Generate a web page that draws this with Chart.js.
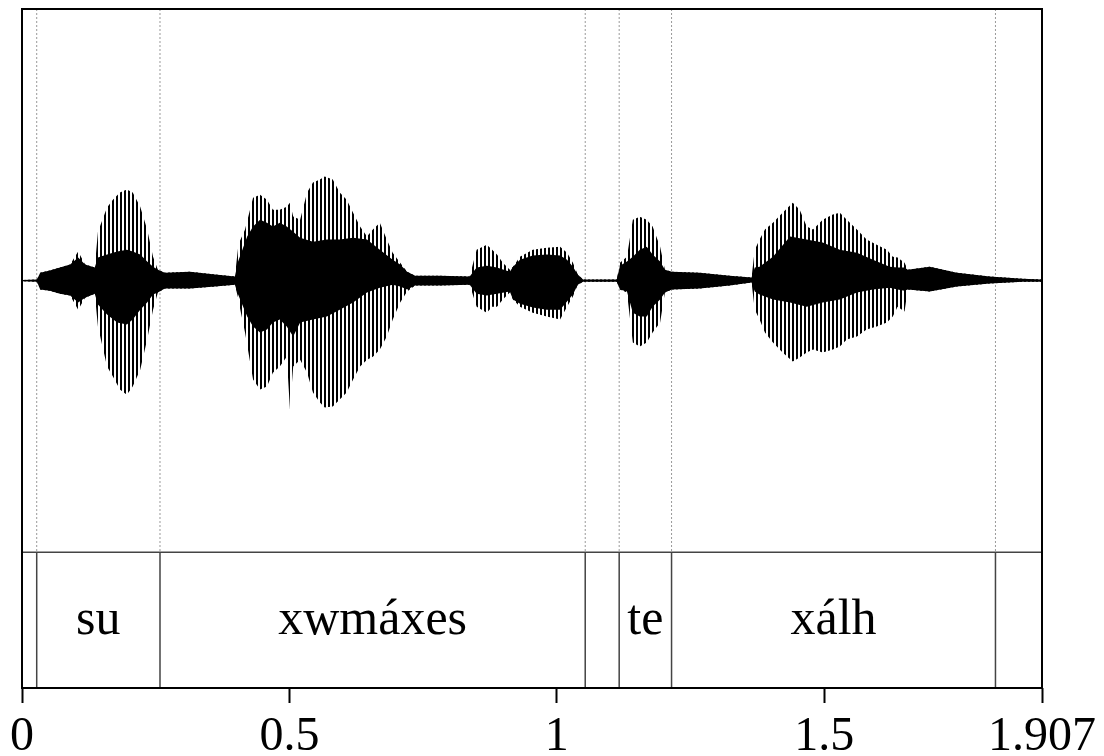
<!DOCTYPE html>
<html>
<head>
<meta charset="utf-8">
<script src="https://cdn.jsdelivr.net/npm/chart.js@4"></script>
<style>
  html, body { margin: 0; padding: 0; background: #fff; }
  #wrap { width: 1104px; height: 756px; }
</style>
</head>
<body>
<div id="wrap"><canvas id="wave"></canvas></div>
<script>
// waveform envelope (time in s, amplitude relative to full scale)
const outerTimes = [0, 0.028, 0.034, 0.052, 0.071, 0.090, 0.105, 0.118, 0.136, 0.142,
  0.159, 0.170, 0.183, 0.196, 0.207, 0.221, 0.234, 0.245, 0.254, 0.267,
  0.314, 0.361, 0.398, 0.404, 0.407, 0.417, 0.432, 0.445, 0.458, 0.469,
  0.482, 0.495, 0.501, 0.507, 0.520, 0.533, 0.544, 0.557, 0.566, 0.581,
  0.594, 0.607, 0.619, 0.632, 0.645, 0.656, 0.669, 0.682, 0.693, 0.707,
  0.720, 0.735, 0.781, 0.837, 0.850, 0.869, 0.879, 0.888, 0.899, 0.912,
  0.918, 0.931, 0.955, 0.981, 1.006, 1.019, 1.030, 1.039, 1.049, 1.112,
  1.118, 1.131, 1.142, 1.155, 1.168, 1.179, 1.193, 1.202, 1.215, 1.267,
  1.323, 1.364, 1.370, 1.379, 1.389, 1.404, 1.422, 1.441, 1.454, 1.467,
  1.479, 1.497, 1.516, 1.529, 1.542, 1.561, 1.579, 1.598, 1.617, 1.628,
  1.637, 1.650, 1.656, 1.697, 1.748, 1.809, 1.871, 1.907];
const outerTop = [0.002, 0.004, 0.029, 0.037, 0.048, 0.059, 0.107, 0.059, 0.048, 0.180,
  0.269, 0.298, 0.324, 0.335, 0.324, 0.272, 0.188, 0.088, 0.040, 0.029,
  0.033, 0.022, 0.015, 0.121, 0.144, 0.188, 0.305, 0.316, 0.298, 0.261,
  0.261, 0.272, 0.287, 0.236, 0.224, 0.324, 0.361, 0.372, 0.383, 0.372,
  0.324, 0.298, 0.250, 0.199, 0.162, 0.188, 0.213, 0.151, 0.103, 0.066,
  0.033, 0.018, 0.018, 0.015, 0.114, 0.132, 0.114, 0.096, 0.066, 0.040,
  0.051, 0.088, 0.114, 0.121, 0.125, 0.103, 0.066, 0.022, 0.004, 0.004,
  0.066, 0.088, 0.224, 0.235, 0.224, 0.199, 0.125, 0.040, 0.033, 0.029,
  0.018, 0.011, 0.114, 0.151, 0.188, 0.213, 0.250, 0.287, 0.261, 0.199,
  0.188, 0.224, 0.243, 0.250, 0.224, 0.188, 0.151, 0.132, 0.114, 0.088,
  0.085, 0.066, 0.040, 0.051, 0.029, 0.015, 0.007, 0.004];
const outerBottom = [-0.002, -0.004, -0.033, -0.037, -0.048, -0.055, -0.107, -0.063, -0.048, -0.169,
  -0.316, -0.353, -0.401, -0.420, -0.390, -0.328, -0.217, -0.107, -0.044, -0.029,
  -0.029, -0.022, -0.015, -0.063, -0.096, -0.191, -0.364, -0.401, -0.390, -0.339,
  -0.316, -0.280, -0.475, -0.316, -0.291, -0.339, -0.412, -0.449, -0.467, -0.464,
  -0.438, -0.412, -0.364, -0.316, -0.291, -0.280, -0.254, -0.206, -0.144, -0.081,
  -0.040, -0.018, -0.018, -0.015, -0.096, -0.118, -0.096, -0.096, -0.070, -0.044,
  -0.070, -0.096, -0.118, -0.132, -0.143, -0.096, -0.059, -0.015, -0.004, -0.004,
  -0.033, -0.044, -0.228, -0.243, -0.228, -0.191, -0.154, -0.044, -0.033, -0.029,
  -0.018, -0.007, -0.107, -0.143, -0.191, -0.228, -0.265, -0.298, -0.283, -0.265,
  -0.254, -0.265, -0.254, -0.243, -0.217, -0.206, -0.180, -0.169, -0.154, -0.132,
  -0.096, -0.114, -0.033, -0.040, -0.022, -0.011, -0.004, -0.004];

// dense core of the waveform
const innerTimes = [0, 0.028, 0.034, 0.052, 0.071, 0.090, 0.105, 0.118, 0.136, 0.142,
  0.159, 0.178, 0.196, 0.207, 0.221, 0.234, 0.245, 0.254, 0.267, 0.314,
  0.361, 0.398, 0.404, 0.421, 0.432, 0.445, 0.458, 0.469, 0.482, 0.495,
  0.507, 0.520, 0.544, 0.570, 0.594, 0.619, 0.645, 0.669, 0.693, 0.707,
  0.720, 0.735, 0.781, 0.837, 0.850, 0.869, 0.888, 0.912, 0.918, 0.931,
  0.955, 0.981, 1.006, 1.019, 1.030, 1.039, 1.049, 1.112, 1.118, 1.131,
  1.142, 1.155, 1.168, 1.179, 1.193, 1.202, 1.215, 1.267, 1.323, 1.364,
  1.370, 1.379, 1.404, 1.436, 1.467, 1.497, 1.529, 1.561, 1.591, 1.622,
  1.637, 1.650, 1.656, 1.697, 1.748, 1.809, 1.871, 1.907];
const innerTop = [0.002, 0.004, 0.029, 0.037, 0.048, 0.059, 0.085, 0.059, 0.048, 0.085,
  0.096, 0.107, 0.114, 0.107, 0.096, 0.070, 0.051, 0.040, 0.029, 0.033,
  0.022, 0.015, 0.070, 0.162, 0.199, 0.224, 0.213, 0.199, 0.213, 0.199,
  0.180, 0.158, 0.143, 0.151, 0.151, 0.158, 0.151, 0.114, 0.077, 0.059,
  0.033, 0.018, 0.018, 0.015, 0.048, 0.055, 0.048, 0.033, 0.051, 0.077,
  0.092, 0.096, 0.092, 0.077, 0.051, 0.022, 0.004, 0.004, 0.055, 0.070,
  0.088, 0.114, 0.125, 0.096, 0.070, 0.040, 0.033, 0.029, 0.018, 0.011,
  0.048, 0.051, 0.088, 0.162, 0.151, 0.140, 0.114, 0.103, 0.077, 0.051,
  0.048, 0.048, 0.040, 0.051, 0.029, 0.015, 0.007, 0.004];
const innerBottom = [-0.002, -0.004, -0.033, -0.037, -0.048, -0.055, -0.081, -0.063, -0.048, -0.088,
  -0.125, -0.154, -0.162, -0.143, -0.107, -0.081, -0.051, -0.044, -0.029, -0.029,
  -0.022, -0.015, -0.051, -0.132, -0.169, -0.191, -0.180, -0.154, -0.143, -0.169,
  -0.206, -0.154, -0.143, -0.132, -0.107, -0.081, -0.044, -0.026, -0.015, -0.022,
  -0.033, -0.018, -0.018, -0.015, -0.048, -0.055, -0.048, -0.040, -0.070, -0.085,
  -0.099, -0.107, -0.107, -0.077, -0.051, -0.015, -0.004, -0.004, -0.033, -0.040,
  -0.118, -0.132, -0.132, -0.096, -0.070, -0.044, -0.033, -0.029, -0.018, -0.007,
  -0.040, -0.051, -0.070, -0.081, -0.096, -0.081, -0.070, -0.044, -0.033, -0.026,
  -0.033, -0.037, -0.033, -0.040, -0.022, -0.011, -0.004, -0.004];

// TextGrid tier
const totalDur = 1.907;
const boundaries = [0.0275, 0.258, 1.053, 1.1165, 1.2144, 1.820];
const intervalLabels = ["", "su", "xwmáxes", "", "te", "xálh", ""];

const xTicks = [0, 0.5, 1, 1.5, 1.907];
const xTickLabels = ["0", "0.5", "1", "1.5", "1.907"];

const serif = '"Liberation Serif", "Times New Roman", serif';

function pts(ts, vs) { return ts.map((t, i) => ({ x: t, y: vs[i] })); }

// thin vertical stripes for the glottal pulses
const pc = document.createElement('canvas');
pc.width = 4; pc.height = 4;
const pctx = pc.getContext('2d');
pctx.fillStyle = '#000';
pctx.fillRect(0, 0, 2, 4);
const stripes = pctx.createPattern(pc, 'repeat');

const dottedLines = boundaries.flatMap(b => [{ x: b, y: 1 }, { x: b, y: -1 }, { x: b, y: null }]);
const tierLines = boundaries.flatMap(b => [{ x: b, y: -1 }, { x: b, y: -1.5 }, { x: b, y: null }]);

const tierText = {
  id: 'tierText',
  afterDatasetsDraw(chart) {
    const { ctx, scales } = chart;
    const edges = [0, ...boundaries, totalDur];
    ctx.save();
    ctx.font = '50px ' + serif;
    ctx.fillStyle = '#000';
    ctx.textAlign = 'center';
    ctx.textBaseline = 'middle';
    const y = scales.y.getPixelForValue(-1.25) + 1;
    intervalLabels.forEach((lab, i) => {
      if (!lab) return;
      const x = scales.x.getPixelForValue((edges[i] + edges[i + 1]) / 2);
      ctx.fillText(lab, x, y);
    });
    ctx.restore();
  }
};

const frame = {
  id: 'frame',
  afterDraw(chart) {
    const { ctx, chartArea: a } = chart;
    ctx.save();
    ctx.strokeStyle = '#000';
    ctx.lineWidth = 2;
    ctx.strokeRect(a.left, a.top, a.right - a.left, a.bottom - a.top);
    ctx.restore();
  }
};

new Chart(document.getElementById('wave'), {
  type: 'line',
  data: {
    datasets: [
      { data: pts(innerTimes, innerTop), fill: '+1', backgroundColor: '#000', borderWidth: 0, pointRadius: 0, order: 1 },
      { data: pts(innerTimes, innerBottom), fill: false, borderWidth: 0, pointRadius: 0, order: 1 },
      { data: pts(outerTimes, outerTop), fill: '+1', backgroundColor: stripes, borderWidth: 0, pointRadius: 0, order: 2 },
      { data: pts(outerTimes, outerBottom), fill: false, borderWidth: 0, pointRadius: 0, order: 2 },
      { data: dottedLines, borderColor: '#999', borderWidth: 1, borderDash: [2, 2], pointRadius: 0, fill: false, spanGaps: false, order: 3 },
      { data: tierLines, borderColor: '#444', borderWidth: 1.5, pointRadius: 0, fill: false, spanGaps: false, order: 0 },
      { data: [{ x: 0, y: -1 }, { x: totalDur, y: -1 }], borderColor: '#444', borderWidth: 1.5, pointRadius: 0, fill: false, order: 0 }
    ]
  },
  options: {
    responsive: true,
    maintainAspectRatio: false,
    animation: false,
    layout: { padding: { left: 22, right: 62, top: 9, bottom: 0 } },
    plugins: { legend: { display: false }, tooltip: { enabled: false } },
    elements: { line: { tension: 0 } },
    scales: {
      x: {
        type: 'linear',
        min: 0,
        max: totalDur,
        afterBuildTicks(scale) { scale.ticks = xTicks.map(v => ({ value: v })); },
        afterFit(scale) { scale.height = 68; },
        ticks: {
          callback: (v, i) => xTickLabels[i],
          font: { family: serif, size: 48 },
          color: '#000',
          padding: 6,
          maxRotation: 0,
          autoSkip: false
        },
        grid: { drawOnChartArea: false, tickLength: 15, tickColor: '#000', tickWidth: 2 },
        border: { display: false }
      },
      y: {
        display: false,
        min: -1.5,
        max: 1
      }
    }
  },
  plugins: [tierText, frame]
});
</script>
</body>
</html>
